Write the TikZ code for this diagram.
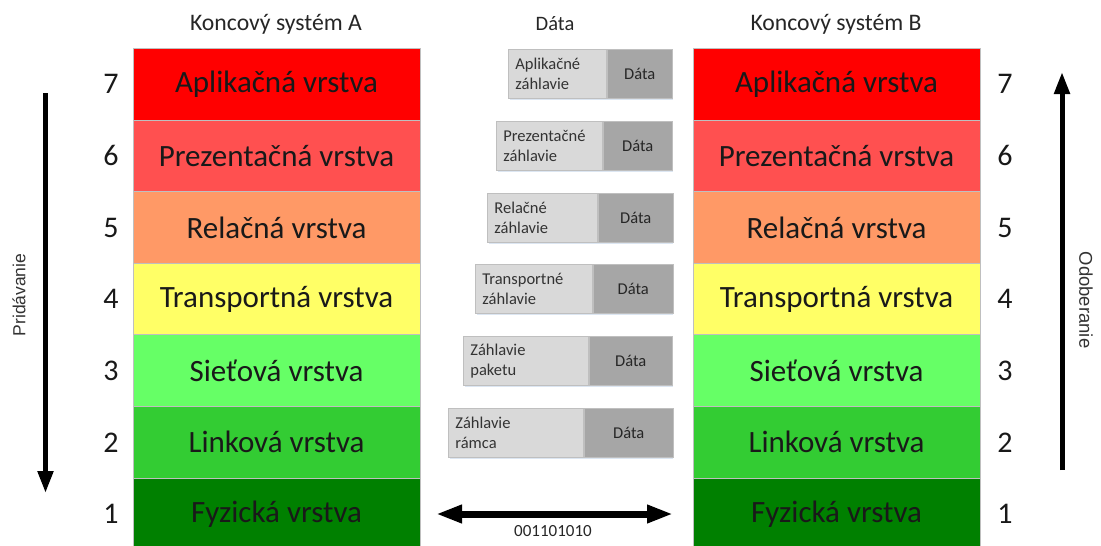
\documentclass[tikz,border=0pt]{standalone}
\usepackage{fontspec}
\setmainfont{Carlito}
\newfontfamily\arialf{Liberation Sans}
\usetikzlibrary{arrows.meta}
\definecolor{c7}{HTML}{FF0000}
\definecolor{c6}{HTML}{FF5050}
\definecolor{c5}{HTML}{FF9966}
\definecolor{c4}{HTML}{FFFF66}
\definecolor{c3}{HTML}{66FF66}
\definecolor{c2}{HTML}{33CC33}
\definecolor{c1}{HTML}{008000}
\definecolor{hdrfill}{HTML}{D9D9D9}
\definecolor{datfill}{HTML}{A6A6A6}
\definecolor{edge}{HTML}{BFBFBF}
\definecolor{glow}{HTML}{DCE6F2}
\tikzset{
  layer/.style={draw=edge, line width=1pt, minimum width=287pt, minimum height=71.6pt, inner sep=0pt, font=\fontsize{31}{34}\selectfont, text=black!90},
  num/.style={font=\fontsize{30}{33}\selectfont, text=black!90},
  title/.style={font=\fontsize{23.7}{26}\selectfont, text=black!85},
  hdr/.style={draw=edge, line width=0.8pt, fill=hdrfill, minimum height=49pt, inner xsep=7pt, inner ysep=0pt, align=left, anchor=north west, font=\fontsize{16.5}{20}\selectfont, text=black!80},
  dat/.style={draw=edge, line width=0.8pt, fill=datfill, minimum height=49pt, inner sep=0pt, anchor=north west, font=\fontsize{16.5}{20}\selectfont, text=black!85},
  bigarrow/.style={line width=5pt, -{Triangle[width=15pt,length=22pt]}},
  side/.style={font=\arialf\fontsize{17.5}{20}\selectfont, text=black!80}
}
\begin{document}
\begin{tikzpicture}[x=1pt,y=-1pt]
\useasboundingbox (0,0) rectangle (1101,546);
% titles
\node[title] (tA) at (276,24) {Koncový systém A};
\node[title] (tB) at (836,24) {Koncový systém B};
\node[font=\fontsize{20.5}{22}\selectfont, text=black!85] (tD) at (555,24) {Dáta};
% left stack
\node[layer, fill=c7] (a7) at (276.5,84.3) {Aplikačná vrstva};
\node[layer, fill=c6] (a6) at (276.5,155.9) {Prezentačná vrstva};
\node[layer, fill=c5] (a5) at (276.5,227.5) {Relačná vrstva};
\node[layer, fill=c4] (a4) at (276.5,299.1) {Transportná vrstva};
\node[layer, fill=c3] (a3) at (276.5,370.7) {Sieťová vrstva};
\node[layer, fill=c2] (a2) at (276.5,442.3) {Linková vrstva};
\node[layer, fill=c1] (a1) at (276.5,513.9) {Fyzická vrstva};
% right stack
\node[layer, fill=c7] (b7) at (836.5,84.3) {Aplikačná vrstva};
\node[layer, fill=c6] (b6) at (836.5,155.9) {Prezentačná vrstva};
\node[layer, fill=c5] (b5) at (836.5,227.5) {Relačná vrstva};
\node[layer, fill=c4] (b4) at (836.5,299.1) {Transportná vrstva};
\node[layer, fill=c3] (b3) at (836.5,370.7) {Sieťová vrstva};
\node[layer, fill=c2] (b2) at (836.5,442.3) {Linková vrstva};
\node[layer, fill=c1] (b1) at (836.5,513.9) {Fyzická vrstva};
% numbers
\foreach \n/\y in {7/84.3,6/155.9,5/227.5,4/299.1,3/370.7,2/442.3,1/513.9}{
  \node[num] (nl\n) at (111,\y) {\n};
  \node[num] (nr\n) at (1005,\y) {\n};
}
% soft shadows of the header boxes
\foreach \l/\t in {508/49,496/121,487/193,475/264,463/336,448/408}{
  \fill[glow] (\l+2,\t+3) rectangle (673,\t+51);
}
% header boxes
\node[hdr, minimum width=98pt, text width=84pt] (h7) at (508,49) {Aplikačné\\záhlavie};
\node[dat, minimum width=65pt] (d7) at (h7.north east) {Dáta};
\node[hdr, minimum width=106pt, text width=92pt] (h6) at (496,121) {Prezentačné\\záhlavie};
\node[dat, minimum width=69pt] (d6) at (h6.north east) {Dáta};
\node[hdr, minimum width=110pt, text width=96pt] (h5) at (487,193) {Relačné\\záhlavie};
\node[dat, minimum width=75pt] (d5) at (h5.north east) {Dáta};
\node[hdr, minimum width=117pt, text width=103pt] (h4) at (475,264) {Transportné\\záhlavie};
\node[dat, minimum width=80pt] (d4) at (h4.north east) {Dáta};
\node[hdr, minimum width=125pt, text width=111pt] (h3) at (463,336) {Záhlavie\\paketu};
\node[dat, minimum width=83pt] (d3) at (h3.north east) {Dáta};
\node[hdr, minimum width=135pt, text width=121pt] (h2) at (448,408) {Záhlavie\\rámca};
\node[dat, minimum width=89pt] (d2) at (h2.north east) {Dáta};
% physical link arrow
\coordinate (pl) at (436,514);
\coordinate (pr) at (673,514);
\draw[line width=7pt, {Triangle[width=17pt,length=26pt]}-{Triangle[width=17pt,length=26pt]}] (pl) -- (pr);
\node[font=\fontsize{17}{19}\selectfont, text=black!85] (bits) at (553,531) {001101010};
% side arrows
\coordinate (lt) at (45.5,93);
\coordinate (lb) at (45.5,493);
\draw[bigarrow] (lt) -- (lb);
\node[side, rotate=90] (pr1) at (19,295) {Pridávanie};
\coordinate (rb) at (1062,470);
\coordinate (rt) at (1062,72);
\draw[bigarrow] (rb) -- (rt);
\node[side, rotate=-90, font=\arialf\fontsize{18.5}{20}\selectfont] (od) at (1086,300) {Odoberanie};
\end{tikzpicture}
\end{document}
